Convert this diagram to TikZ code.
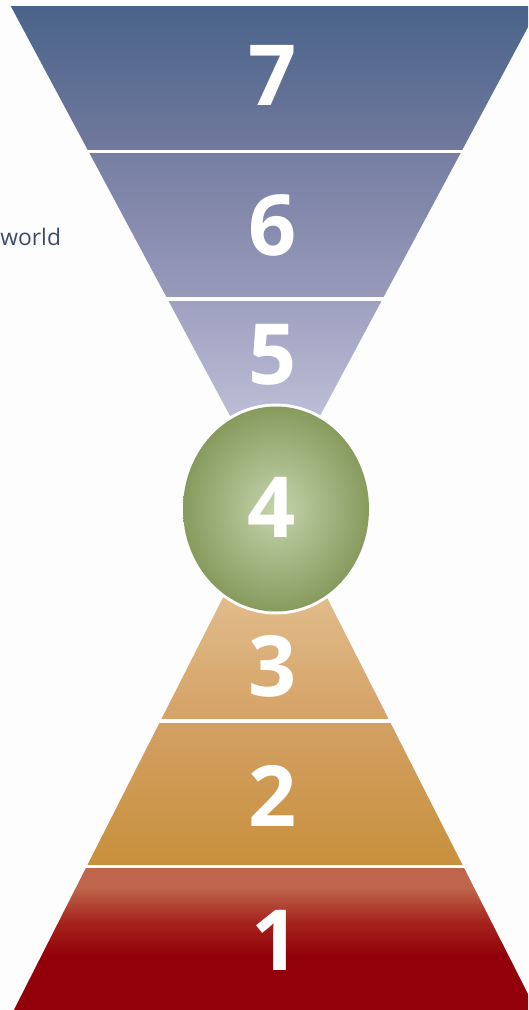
\documentclass[tikz,border=0pt]{standalone}
\usepackage{fontspec}
\setmainfont{Open Sans}
\usepackage{xcolor}
\usetikzlibrary{positioning}

\definecolor{bgwhite}{RGB}{253,253,253}
\definecolor{worldtext}{RGB}{59,75,105}
\definecolor{sevenA}{RGB}{74,99,138}
\definecolor{sevenB}{RGB}{113,121,157}
\definecolor{sixA}{RGB}{118,126,162}
\definecolor{sixB}{RGB}{152,154,186}
\definecolor{fiveA}{RGB}{158,160,192}
\definecolor{fiveB}{RGB}{192,192,216}
\definecolor{greenOut}{RGB}{135,155,94}
\definecolor{greenIn}{RGB}{196,212,172}
\definecolor{threeA}{RGB}{226,190,142}
\definecolor{threeB}{RGB}{213,162,102}
\definecolor{twoA}{RGB}{211,160,100}
\definecolor{twoB}{RGB}{200,144,60}
\definecolor{oneA}{RGB}{190,101,75}
\definecolor{oneB}{RGB}{165,35,28}
\definecolor{oneC}{RGB}{146,0,10}

% vertical shading for the red base layer (dark red reached early)
\pgfdeclareverticalshading{redband}{100bp}{color(0bp)=(oneC); color(25bp)=(oneC);
  color(44bp)=(oneC); color(56bp)=(oneB); color(68bp)=(oneA); color(75bp)=(oneA);
  color(100bp)=(oneA)}

\begin{document}
\begin{tikzpicture}[x=0.02cm, y=-0.02cm,
  digit/.style={text=white, inner sep=0pt,
    font=\fontsize{48}{48}\selectfont\bfseries},
  ]

% --- hourglass parameters (in pixels of the picture) ---
\def\cx{275}
\def\topY{500}   % apex of the upper funnel
\def\botY{495}   % apex of the lower funnel
\def\sT{0.535}   % slope of the upper funnel
\def\sB{0.507}   % slope of the lower funnel

\clip (0,0) rectangle (528,1010);
\fill[bgwhite] (0,0) rectangle (528,1010);

% ------------------ upper funnel: 7, 6, 5 ------------------
\begin{scope}
  \clip (\cx,\topY) -- ({\cx-\sT*\topY},0) -- ({\cx+\sT*\topY},0) -- cycle;
  \shade[top color=sevenA, bottom color=sevenB] (0,7) rectangle (560,150);
  \shade[top color=sixA, bottom color=sixB] (0,154) rectangle (560,296);
  \shade[top color=fiveA, bottom color=fiveB] (0,301) rectangle (560,430);
\end{scope}

% ------------------ lower funnel: 3, 2, 1 ------------------
\begin{scope}
  \clip (\cx,\botY) -- ({\cx-\sB*(1030-\botY)},1030) -- ({\cx+\sB*(1030-\botY)},1030) -- cycle;
  \shade[top color=threeA, bottom color=threeB] (0,585) rectangle (560,718);
  \shade[top color=twoA, bottom color=twoB] (0,723) rectangle (560,864);
  \shade[shading=redband] (0,868) rectangle (560,1010);
\end{scope}

% ------------------ middle: the ball ------------------
\fill[bgwhite] (276,509) ellipse [x radius=96, y radius=105.5];
\shade[inner color=greenIn, outer color=greenOut] (276,509) ellipse [x radius=93, y radius=102.5];

% labels
\node[digit] (n7) at (273,75) {7};
\node[digit] (n6) at (273,225) {6};
\node[digit] (n5) at (273,355) {5};
\node[digit] (n4) at (272,507) {4};
\node[digit] (n3) at (273,666) {3};
\node[digit] (n2) at (273,796) {2};
\node[digit] (n1) at (276,940) {1};

\node[anchor=base west, inner sep=0pt, text=worldtext,
  font=\fontsize{13}{13}\selectfont] (world) at (0,245) {world};

\end{tikzpicture}
\end{document}
